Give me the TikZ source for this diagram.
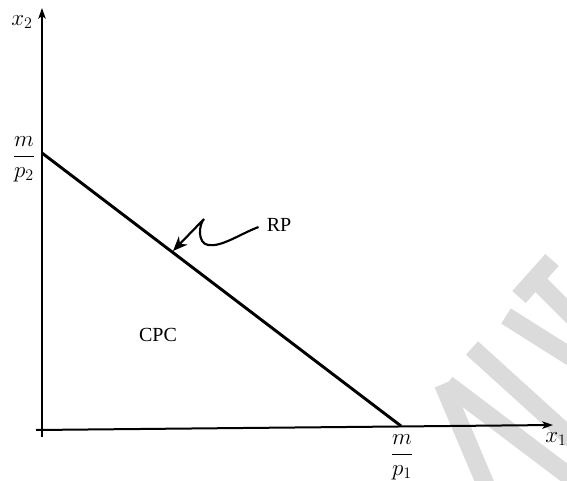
\documentclass[tikz,border=0pt]{standalone}
\usepackage{fontspec}
\setmainfont{Liberation Serif}
\usetikzlibrary{arrows.meta}
\tikzset{
  axis/.style={line width=1.5pt,-{Stealth[length=8pt,width=5.5pt,inset=2pt]}},
  budget/.style={line width=2.2pt},
  wavy/.style={line width=1.6pt,-{Stealth[length=11pt,width=9pt,inset=3.5pt]}},
  mathlbl/.style={inner sep=0pt,font=\fontsize{16.5}{19}\selectfont},
  txtlbl/.style={inner sep=0pt,font=\fontsize{15}{18}\selectfont},
  wmark/.style={line width=13.5pt,color=black!14}
}
\begin{document}
\begin{tikzpicture}[x=0.75pt,y=-0.75pt]
\useasboundingbox (0,0) rectangle (567,481);
% watermark strokes
\begin{scope}
\clip (0,0) rectangle (567,481);
\draw[wmark] (519,297) -- (552,260);
\draw[wmark] (536,280) -- (590,334);
\draw[wmark] (506,316) -- (590,369);
\draw[wmark] (472,348) -- (590,455);
\draw[wmark] (447,384) -- (590,492);
\draw[wmark] (443,384) -- (490,495);
\end{scope}
% axes
\coordinate (O) at (42,437);
\coordinate (ytop) at (42,8);
\coordinate (xl) at (36,430);
\coordinate (xr) at (553,425);
\draw[axis] (O) -- (ytop);
\draw[axis] (xl) -- (xr);
% budget line
\coordinate (A) at (42,153);
\coordinate (B) at (401,426);
\draw[budget] (A) -- (B);
% labels
\node[mathlbl] (x2) at (22,22) {$x_2$};
\node[mathlbl] (x1) at (556,439) {$x_1$};
\node[mathlbl] (mp2) at (24,159) {$\displaystyle\frac{m}{p_2}$};
\node[mathlbl] (mp1) at (402,457) {$\displaystyle\frac{m}{p_1}$};
\node[txtlbl] (RP) at (279,225) {RP};
\node[txtlbl] (CPC) at (158,335) {CPC};
% wavy arrow
\coordinate (tip) at (173,251);
\draw[wavy] ([xshift=-6pt,yshift=-1.5pt]RP.west) .. controls (238,235) and (222,247) .. (208,245)
  .. controls (197,243) and (199,224) .. (204,219) -- (tip);
\end{tikzpicture}
\end{document}
